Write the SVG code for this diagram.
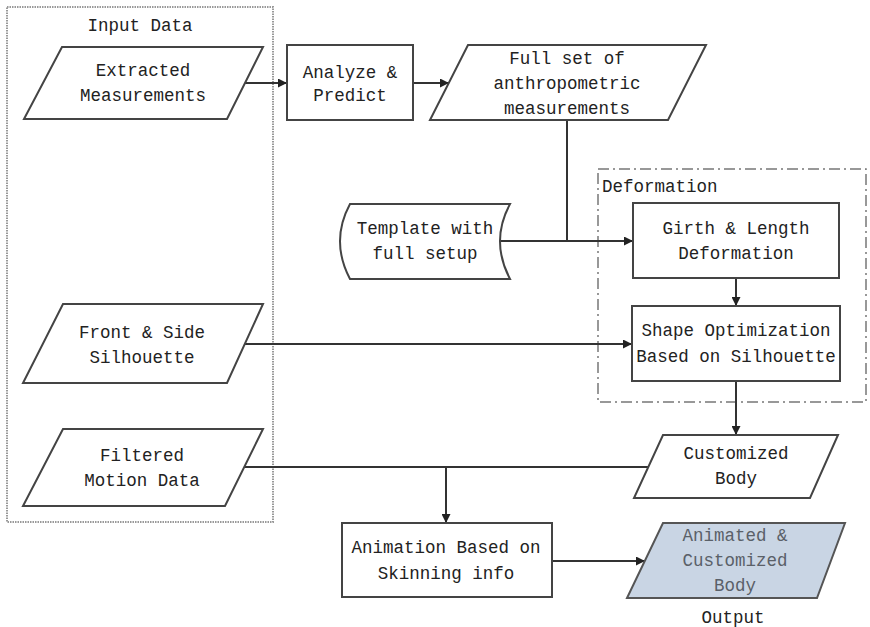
<svg xmlns="http://www.w3.org/2000/svg" width="870" height="627" viewBox="0 0 870 627">
<defs>
<style>
text{font-family:"Liberation Mono","DejaVu Sans Mono",monospace;font-size:17.5px;fill:#222;text-anchor:middle}
.shape{fill:#fff;stroke:#444;stroke-width:2}
.out{fill:#c9d5e4;stroke:#555;stroke-width:2}
.conn{fill:none;stroke:#333;stroke-width:2}
.grp1{fill:none;stroke:#999;stroke-width:2;stroke-dasharray:1.5 1}
.grp2{fill:none;stroke:#777;stroke-width:1.5;stroke-dasharray:11 4 2 4}
</style>
<marker id="arr" viewBox="0 0 10 10" refX="10" refY="5" markerWidth="9" markerHeight="9" markerUnits="userSpaceOnUse" orient="auto">
<path d="M0,0 L10,5 L0,10 z" fill="#222"/>
</marker>
</defs>
<rect width="870" height="627" fill="#fff"/>

<g id="input-data">
<rect class="grp1" x="7" y="7" width="266" height="515"/>
<text x="140" y="31">Input Data</text>
</g>
<g id="deformation">
<rect class="grp2" x="598" y="169" width="268" height="233"/>
<text x="602" y="192" style="text-anchor:start">Deformation</text>
</g>

<g id="connectors">
<path class="conn" d="M245,83 H287" marker-end="url(#arr)"/>
<path class="conn" d="M413,83 H449" marker-end="url(#arr)"/>
<path class="conn" d="M567,120 V241 H633" marker-end="url(#arr)"/>
<path class="conn" d="M500,241 H567"/>
<path class="conn" d="M736,278 V306" marker-end="url(#arr)"/>
<path class="conn" d="M245,344 H632" marker-end="url(#arr)"/>
<path class="conn" d="M736,381 V435" marker-end="url(#arr)"/>
<path class="conn" d="M244,467 H648"/>
<path class="conn" d="M446,467 V523" marker-end="url(#arr)"/>
<path class="conn" d="M552,561 H645" marker-end="url(#arr)"/>
</g>

<g id="extracted">
<polygon class="shape" points="62,47 263,47 227,119 24,119"/>
<text x="143" y="76">Extracted</text>
<text x="143" y="101">Measurements</text>
</g>
<g id="analyze">
<rect class="shape" x="287" y="45" width="126" height="75"/>
<text x="350" y="78">Analyze &amp;</text>
<text x="350" y="101">Predict</text>
</g>
<g id="fullset">
<polygon class="shape" points="468,45 706,45 668,120 430,120"/>
<text x="567" y="64">Full set of</text>
<text x="567" y="89">anthropometric</text>
<text x="567" y="114">measurements</text>
</g>
<g id="template">
<path class="shape" d="M350,204 H510 Q490,241 510,279 H350 Q330,241 350,204 Z"/>
<text x="425" y="234">Template with</text>
<text x="425" y="259">full setup</text>
</g>
<g id="girth">
<rect class="shape" x="633" y="203" width="206" height="75"/>
<text x="736" y="234">Girth &amp; Length</text>
<text x="736" y="259">Deformation</text>
</g>
<g id="shapeopt">
<rect class="shape" x="632" y="306" width="208" height="75"/>
<text x="736" y="336">Shape Optimization</text>
<text x="736" y="362">Based on Silhouette</text>
</g>
<g id="frontside">
<polygon class="shape" points="63,304 263,304 227,383 23,383"/>
<text x="142" y="338">Front &amp; Side</text>
<text x="142" y="363">Silhouette</text>
</g>
<g id="filtered">
<polygon class="shape" points="63,429 263,429 225,506 23,506"/>
<text x="142" y="461">Filtered</text>
<text x="142" y="486">Motion Data</text>
</g>
<g id="customized">
<polygon class="shape" points="663,435 838,435 810,498 634,498"/>
<text x="736" y="459">Customized</text>
<text x="736" y="484">Body</text>
</g>
<g id="animation">
<rect class="shape" x="342" y="523" width="210" height="74"/>
<text x="446" y="553">Animation Based on</text>
<text x="446" y="579">Skinning info</text>
</g>
<g id="animated">
<polygon class="out" points="663,523 845,523 817,598 627,598"/>
<text x="735" y="541" style="fill:#5a6068">Animated &amp;</text>
<text x="735" y="566" style="fill:#5a6068">Customized</text>
<text x="735" y="591" style="fill:#5a6068">Body</text>
<text x="733" y="623">Output</text>
</g>
</svg>
